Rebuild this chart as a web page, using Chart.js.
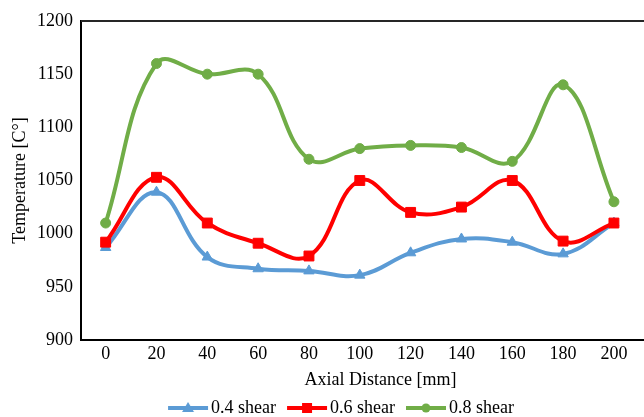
<!DOCTYPE html>
<html>
<head>
<meta charset="utf-8">
<script src="https://cdn.jsdelivr.net/npm/chart.js@4/dist/chart.umd.min.js"></script>
<style>
    html, body { margin: 0; padding: 0; background: #fff; overflow: hidden; }
    #wrap { width: 688px; height: 427px; }
</style>
</head>
<body>
<div id="wrap"><canvas id="tempChart" width="688" height="427"></canvas></div>
<script>
const distances = [0, 20, 40, 60, 80, 100, 120, 140, 160, 180, 200];
const shear04 = [987, 1039, 978, 967, 965, 961, 982, 995, 992, 981, 1010];
const shear06 = [992, 1053, 1010, 991, 979, 1050, 1020, 1025, 1050, 993, 1010];
const shear08 = [1010, 1160, 1150, 1150, 1070, 1080, 1083, 1081, 1068, 1140, 1030];
const seriesNames = ['0.4 shear', '0.6 shear', '0.8 shear'];
const seriesColors = ['#5B9BD5', '#FF0000', '#70AD47'];
const yTicks = [900, 950, 1000, 1050, 1100, 1150, 1200];

const FONT = "'Liberation Serif', 'Times New Roman', serif";

// little line + marker sample used as legend point style
function legendSwatch(color, marker) {
    const c = document.createElement('canvas');
    c.width = 42;
    c.height = 16;
    const g = c.getContext('2d');
    g.strokeStyle = color;
    g.fillStyle = color;
    g.lineWidth = 4;
    g.beginPath();
    g.moveTo(1, 8);
    g.lineTo(41, 8);
    g.stroke();
    g.beginPath();
    if (marker === 'triangle') {
        g.moveTo(21, 2);
        g.lineTo(27, 12);
        g.lineTo(15, 12);
        g.closePath();
    } else if (marker === 'rect') {
        g.rect(16, 3, 10, 10);
    } else {
        g.arc(21, 8, 4.5, 0, Math.PI * 2);
    }
    g.fill();
    return c;
}

const markers = ['triangle', 'rect', 'circle'];
const markerRadius = [6, 7, 5];
const values = [shear04, shear06, shear08];

const datasets = values.map((vals, i) => ({
    label: seriesNames[i],
    data: distances.map((d, j) => ({ x: d, y: vals[j] })),
    borderColor: seriesColors[i],
    backgroundColor: seriesColors[i],
    borderWidth: 4,
    tension: 0.4,
    fill: false,
    pointStyle: markers[i],
    pointRadius: markerRadius[i],
    pointBorderWidth: 1,
    order: 3 - i
}));

const topFrame = {
    id: 'topFrame',
    beforeDatasetsDraw(chart) {
        const { ctx, chartArea } = chart;
        ctx.save();
        ctx.strokeStyle = '#262626';
        ctx.lineWidth = 2;
        ctx.beginPath();
        ctx.moveTo(chartArea.left, chartArea.top);
        ctx.lineTo(chartArea.right, chartArea.top);
        ctx.stroke();
        ctx.restore();
    }
};

new Chart(document.getElementById('tempChart').getContext('2d'), {
    type: 'line',
    data: { datasets },
    plugins: [topFrame],
    options: {
        responsive: false,
        animation: false,
        layout: { padding: { top: 21, left: 0, right: 0, bottom: 0 } },
        plugins: {
            tooltip: { enabled: false },
            legend: {
                position: 'bottom',
                labels: {
                    usePointStyle: true,
                    pointStyleWidth: 28,
                    padding: 17,
                    color: '#000',
                    font: { family: FONT, size: 18 },
                    generateLabels: chart => chart.data.datasets.map((ds, i) => ({
                        text: ds.label,
                        pointStyle: legendSwatch(seriesColors[i], markers[i]),
                        fillStyle: seriesColors[i],
                        strokeStyle: seriesColors[i],
                        lineWidth: 0,
                        fontColor: '#000',
                        hidden: false,
                        datasetIndex: i
                    }))
                }
            }
        },
        scales: {
            x: {
                type: 'linear',
                min: -9.7,
                max: 226,
                afterBuildTicks: scale => {
                    scale.ticks = distances.map(v => ({ value: v }));
                },
                afterFit: scale => { scale.height = 42; },
                grid: { display: false, drawTicks: false },
                border: { display: true, color: '#000', width: 2 },
                ticks: {
                    padding: 3,
                    color: '#000',
                    font: { family: FONT, size: 18 },
                    callback: v => String(v)
                },
                title: {
                    display: true,
                    text: 'Axial Distance [mm]',
                    color: '#000',
                    font: { family: FONT, size: 18 },
                    padding: { top: 0, bottom: -8.8 }
                }
            },
            y: {
                min: 900,
                max: 1200,
                afterBuildTicks: scale => {
                    scale.ticks = yTicks.map(v => ({ value: v }));
                },
                afterFit: scale => { scale.width = 81; },
                grid: { display: false, drawTicks: false },
                border: { display: true, color: '#000', width: 2 },
                ticks: {
                    padding: 8,
                    color: '#000',
                    font: { family: FONT, size: 18 },
                    callback: v => String(v)
                },
                title: {
                    display: true,
                    text: 'Temperature [C°]',
                    color: '#000',
                    font: { family: FONT, size: 18 },
                    padding: { top: 9, bottom: 0 }
                }
            }
        }
    }
});
</script>
</body>
</html>
